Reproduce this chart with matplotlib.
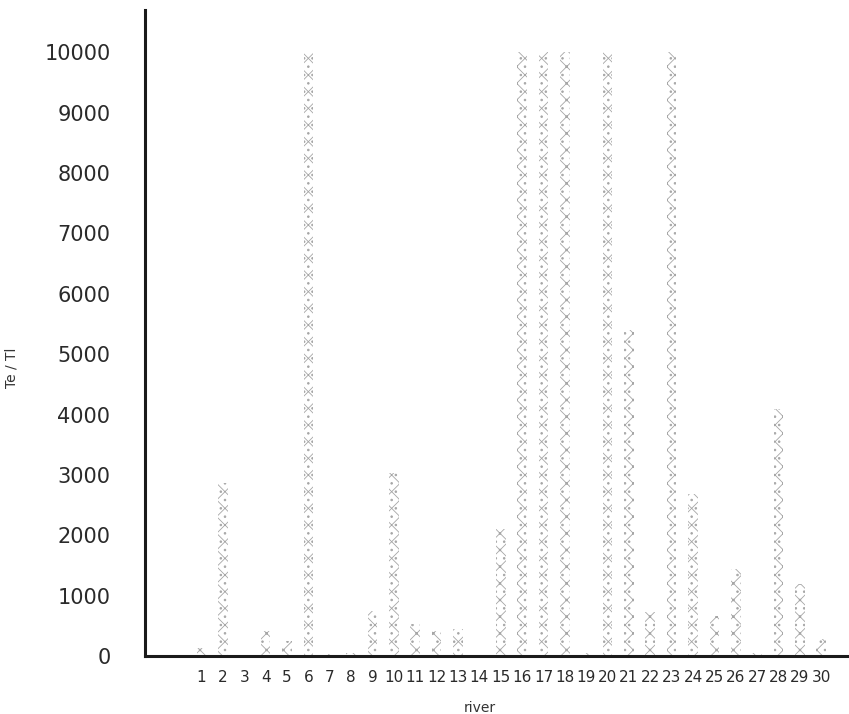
import numpy as np
import matplotlib.pyplot as plt

rivers = list(range(1, 31))
te_tl = [130, 2870, 20, 410, 250, 10000, 40, 50, 750, 3030,
         530, 410, 450, 10, 2100, 10000, 10000, 10000, 50, 10000,
         5400, 730, 10000, 2690, 660, 1440, 50, 4100, 1190, 290]
yticks = list(range(0, 10001, 1000))

plt.rcParams['font.family'] = ['DejaVu Sans']
plt.rcParams['hatch.linewidth'] = 0.6

fig = plt.figure(figsize=(8.49, 7.14), dpi=100)
ax = fig.add_axes([0.171, 0.081, 0.829, 0.905])

# light dotted crosshatch, like the printed screen in the original
ax.bar(rivers, te_tl, width=0.45, color='white', edgecolor='#a6a6a6',
       linewidth=0, hatch='xx..')

ax.set_xlim(-1.64, 31.3)
ax.set_ylim(0, 10700)
ax.set_xticks(rivers)
ax.set_xticklabels([str(r) for r in rivers], fontsize=11, color='#2a2a2a')
ax.set_yticks(yticks)
ax.set_yticklabels([str(v) for v in yticks], fontsize=15, color='#2a2a2a')
ax.tick_params(axis='y', length=0, pad=25)
ax.tick_params(axis='x', length=0, pad=10)

for side in ['top', 'right']:
    ax.spines[side].set_visible(False)
for side in ['left', 'bottom']:
    ax.spines[side].set_linewidth(2.2)
    ax.spines[side].set_color('#1a1a1a')

ax.set_ylabel('Te / Tl', fontsize=10, color='#333333')
ax.yaxis.set_label_coords(-0.18, 0.446)
ax.set_xlabel('river', fontsize=10, color='#333333')
ax.xaxis.set_label_coords(0.476, -0.07)

fig.savefig('out.png', dpi=100)
